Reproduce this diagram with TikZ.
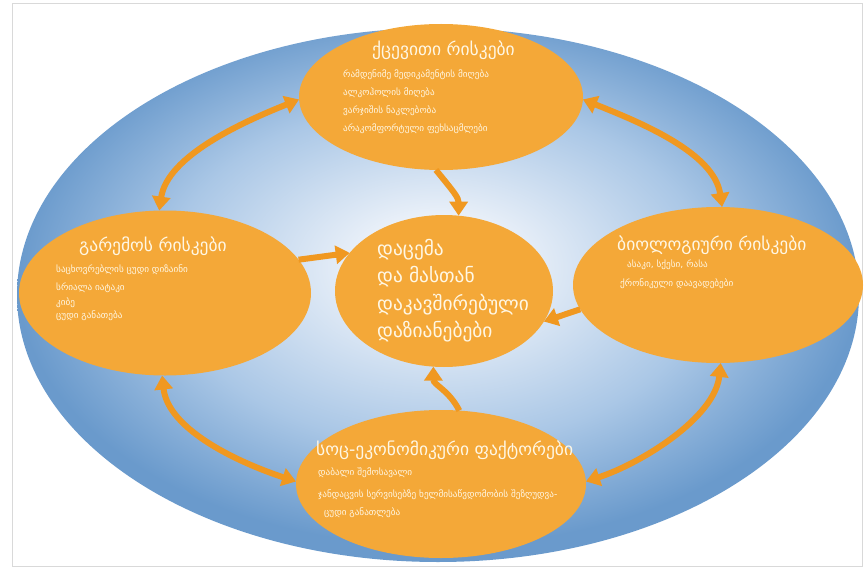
\documentclass[tikz,border=0pt]{standalone}
\usepackage{fontspec}
\setmainfont{DejaVu Sans}
\newfontfamily\geo{DejaVu Sans}
\usetikzlibrary{shapes.geometric,arrows.meta}
\definecolor{orfill}{RGB}{244,168,56}
\definecolor{orarrow}{RGB}{240,152,32}
\definecolor{txtc}{RGB}{255,247,228}
\definecolor{bluein}{RGB}{238,243,250}
\definecolor{bluemid}{RGB}{170,199,230}
\definecolor{blueout}{RGB}{106,154,204}
\pgfdeclareradialshading{glow}{\pgfpoint{0bp}{3bp}}{color(0bp)=(bluein); color(4bp)=(bluein); color(16bp)=(bluemid); color(25bp)=(blueout); color(50bp)=(blueout)}
\tikzset{
  bgell/.style={ellipse, inner sep=0pt, outer sep=0pt, shading=glow},
  blob/.style={ellipse, inner sep=0pt, outer sep=0pt, fill=orfill},
  ttl/.style={text=txtc, font=\geo\fontsize{17.5}{20}\selectfont, anchor=west, inner sep=0pt},
  itm/.style={text=txtc, font=\geo\fontsize{9.2}{11}\selectfont, anchor=west, inner sep=0pt},
  ctr/.style={text=txtc, font=\geo\fontsize{19.4}{23}\selectfont, anchor=west, inner sep=0pt},
  dbl/.style={draw=orarrow, line width=6pt, {Triangle[width=18pt,length=14pt]}-{Triangle[width=18pt,length=14pt]}},
  sgl/.style={draw=orarrow, line width=6pt, -{Triangle[width=18pt,length=14pt]}}
}
\begin{document}
\begin{tikzpicture}[x=1pt,y=-1pt]
\useasboundingbox (0,0) rectangle (864,567);
\fill[white] (0,0) rectangle (864,567);
\draw[gray!30, line width=0.8pt] (12,3) rectangle (862,566);
\node[bgell, minimum width=842pt, minimum height=534pt] (bg) at (438,295) {};

\node[blob, minimum width=284pt, minimum height=146pt] (top) at (441,97) {};
\node[blob, minimum width=292pt, minimum height=165pt] (left) at (165,293) {};
\node[blob, minimum width=290pt, minimum height=156pt] (right) at (718,285) {};
\node[blob, minimum width=218pt, minimum height=152pt] (mid) at (444,291) {};
\node[blob, minimum width=290pt, minimum height=148pt] (bot) at (441,484) {};

% connectors
\draw[dbl] (left.94) .. controls +(8,-55) and +(-55,22) .. (top.181);
\draw[dbl] (top.359) .. controls +(55,22) and +(-8,-55) .. (right.87);
\draw[dbl] (left.268) .. controls +(6,55) and +(-55,-18) .. (bot.179);
\draw[dbl] (right.272) .. controls +(-6,55) and +(55,-18) .. (bot.1);
\draw[sgl] (top.266) .. controls +(18,22) and +(0,-18) .. (mid.79);
\draw[sgl] (left.14) -- (mid.158);
\draw[sgl] (right.190) -- (mid.343);
\draw[sgl] (bot.76) .. controls +(-10,-20) and +(0,18) .. (mid.262);

% top texts
\node[ttl] (tT) at (372,50) {ქცევითი რისკები};
\node[itm] (t1) at (343,75) {რამდენიმე მედიკამენტის მიღება};
\node[itm] (t2) at (343,93) {ალკოჰოლის მიღება};
\node[itm] (t3) at (343,111) {ვარჯიშის ნაკლებობა};
\node[itm] (t4) at (343,129) {არაკომფორტული ფეხსაცმლები};

% left texts
\node[ttl] (lT) at (79,246) {გარემოს რისკები};
\node[itm] (l1) at (56,270) {საცხოვრებლის ცუდი დიზაინი};
\node[itm] (l2) at (56,288) {სრიალა იატაკი};
\node[itm] (l3) at (56,303) {კიბე};
\node[itm] (l4) at (56,316) {ცუდი განათება};

% right texts
\node[ttl] (rT) at (617,245) {ბიოლოგიური რისკები};
\node[itm] (r1) at (627,265) {ასაკი, სქესი, რასა};
\node[itm] (r2) at (620,284) {ქრონიკული დაავადებები};

% bottom texts
\node[ttl] (bT) at (316,450) {სოც-ეკონომიკური ფაქტორები};
\node[itm] (b1) at (318,473) {დაბალი შემოსავალი};
\node[itm] (b2) at (318,495) {ჯანდაცვის სერვისებზე ხელმისაწვდომობის შეზღუდვა-};
\node[itm] (b3) at (324,513) {ცუდი განათლება};

% center texts
\node[ctr] (c1) at (377,250) {დაცემა};
\node[ctr] (c2) at (377,277) {და მასთან};
\node[ctr] (c3) at (377,305) {დაკავშირებული};
\node[ctr] (c4) at (377,332) {დაზიანებები};
\end{tikzpicture}
\end{document}
